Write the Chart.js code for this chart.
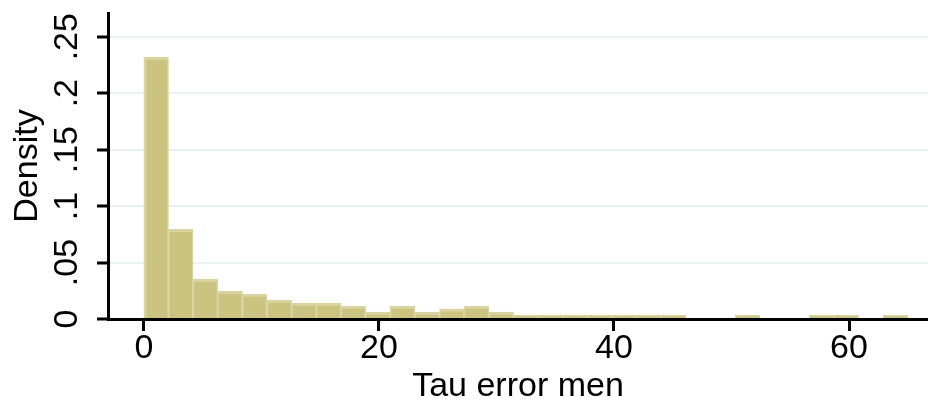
<!DOCTYPE html>
<html>
<head>
<meta charset="utf-8">
<script src="https://cdn.jsdelivr.net/npm/chart.js@4"></script>
<style>
  html, body { margin: 0; padding: 0; background: #fff; }
</style>
</head>
<body>
<canvas id="histChart" width="928" height="404"></canvas>
<script>
  // Histogram of tau error (men): 31 equal bins from 0 to 65
  const binStart = 0;
  const binWidth = 65 / 31;
  const density = [
    0.232, 0.0795, 0.0354, 0.0248, 0.0221, 0.0168, 0.0142, 0.0142, 0.0115, 0.0062,
    0.0115, 0.0062, 0.0089, 0.0115, 0.0062, 0.0035, 0.0035, 0.0035, 0.0035, 0.0035,
    0.0035, 0.0035, 0, 0, 0.0035, 0, 0, 0.0035, 0.0035, 0, 0.0035
  ];
  const xTickStep = 20;
  const yTickStep = 0.05;
  const yTickLabels = ['0', '.05', '.1', '.15', '.2', '.25'];
  const xTitle = 'Tau error men';
  const yTitle = 'Density';

  const fontFamily = '"Liberation Sans", Arial, sans-serif';
  const barFill = '#cbc380';
  const barEdge = '#d9d4a1';
  const gridColor = '#eaf2f3';

  const points = density.map((d, i) => ({ x: binStart + (i + 0.5) * binWidth, y: d }));

  const ctx = document.getElementById('histChart').getContext('2d');
  new Chart(ctx, {
    type: 'bar',
    data: {
      datasets: [{
        label: 'Density',
        data: points,
        backgroundColor: barFill,
        borderColor: barEdge,
        // outlines overlap between neighbours, so each side gets half
        borderWidth: (c) => ({ top: 3, left: c.dataIndex === 0 ? 3 : 1.5, right: 1.5, bottom: 0 }),
        borderSkipped: 'start',
        barPercentage: 1,
        categoryPercentage: 1
      }]
    },
    options: {
      responsive: false,
      animation: false,
      layout: { padding: { top: 13, left: 0, right: 0, bottom: 0 } },
      scales: {
        x: {
          type: 'linear',
          min: -3.05,
          max: 66.72,
          offset: false,
          afterFit: (s) => { s.height = 85; s.paddingLeft = 0; s.paddingRight = 0; },
          grid: { offset: false, drawOnChartArea: false, drawTicks: true, tickLength: 12, tickColor: '#000', tickWidth: 3 },
          border: { display: true, color: '#000', width: 3, z: 1 },
          ticks: {
            stepSize: xTickStep,
            includeBounds: false,
            autoSkip: false,
            maxRotation: 0,
            padding: 1,
            color: '#000',
            font: { family: fontFamily, size: 34, lineHeight: 1 }
          },
          title: {
            display: true,
            text: xTitle,
            color: '#000',
            padding: { top: 0, bottom: 0 },
            font: { family: fontFamily, size: 34, lineHeight: 1 }
          }
        },
        y: {
          min: 0,
          max: 0.271,
          afterFit: (s) => { s.width = 108; s.paddingTop = 0; s.paddingBottom = 0; },
          grid: { color: gridColor, lineWidth: 2, drawTicks: true, tickLength: 11, tickColor: '#000', tickWidth: 3 },
          border: { display: true, color: '#000', width: 3, z: 1 },
          ticks: {
            stepSize: yTickStep,
            includeBounds: false,
            autoSkip: false,
            minRotation: 90,
            maxRotation: 90,
            crossAlign: 'center',
            padding: 6,
            color: '#000',
            font: { family: fontFamily, size: 34, lineHeight: 1 },
            callback: (v) => yTickLabels[Math.round(v / yTickStep)]
          },
          title: {
            display: true,
            text: yTitle,
            color: '#000',
            padding: { top: 11, bottom: 0 },
            font: { family: fontFamily, size: 34, lineHeight: 1 }
          }
        }
      },
      plugins: {
        legend: { display: false },
        tooltip: { enabled: false }
      }
    }
  });
</script>
</body>
</html>
